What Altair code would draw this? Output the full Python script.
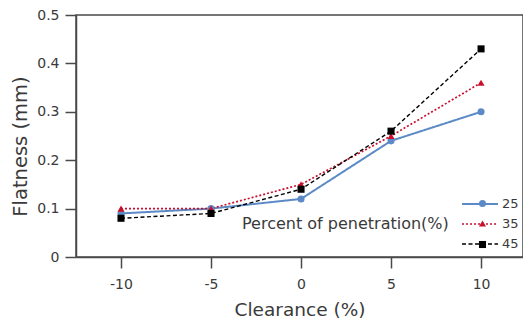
import altair as alt
import pandas as pd

clearance = [-10, -5, 0, 5, 10]
series_names = ["25", "35", "45"]
flat_25 = [0.09, 0.10, 0.12, 0.24, 0.30]
flat_35 = [0.10, 0.10, 0.15, 0.25, 0.36]
flat_45 = [0.08, 0.09, 0.14, 0.26, 0.43]
x_ticks = [-10, -5, 0, 5, 10]
y_ticks = [0, 0.1, 0.2, 0.3, 0.4, 0.5]

rows = []
for name, vals in zip(series_names, [flat_25, flat_35, flat_45]):
    for c, v in zip(clearance, vals):
        rows.append({"clearance": c, "flatness": v, "series": name, "series_p": name})
df = pd.DataFrame(rows)

colors = ["#5b8ac6", "#c8102e", "#000000"]
dashes = [[1, 0], [2, 2], [4, 2.5]]
widths = [2, 1.4, 2]
shapes = ["circle", "triangle-up", "square"]
FONT = "DejaVu Sans"
TXT = "#3a3a3a"
LEG_TITLE = "Percent of penetration(%)"
LX, LY = 166, 182

x_enc = alt.X(
    "clearance:Q",
    scale=alt.Scale(domain=[-12.5, 12.33], nice=False, zero=False),
    axis=alt.Axis(values=x_ticks, title="Clearance (%)", labelExpr="'' + datum.value",
                  grid=False, tickSize=11, labelPadding=9, titlePadding=9, titleFontSize=18.5),
)
y_enc = alt.Y(
    "flatness:Q",
    scale=alt.Scale(domain=[0, 0.5], nice=False),
    axis=alt.Axis(values=y_ticks, title="Flatness (mm)", format="~g",
                  grid=False, tickSize=11, labelPadding=6, titlePadding=6,
                  titleFontSize=19.5, titleY=131),
)

lines = alt.Chart(df).mark_line().encode(
    x=x_enc,
    y=y_enc,
    color=alt.Color("series:N", scale=alt.Scale(domain=series_names, range=colors),
                    legend=alt.Legend(orient="none", legendX=LX, legendY=LY, title=LEG_TITLE,
                                      titleOrient="left", titleAnchor="middle", titleBaseline="middle",
                                      titleLimit=400,
                                      symbolType="M-3,0L3,0", symbolSize=144, symbolStrokeWidth=2,
                                      titlePadding=24, labelOffset=15, rowPadding=6)),
    strokeDash=alt.StrokeDash("series:N", scale=alt.Scale(domain=series_names, range=dashes)),
    strokeWidth=alt.StrokeWidth("series:N", scale=alt.Scale(domain=series_names, range=widths), legend=None),
)

points = alt.Chart(df).mark_point(filled=True, opacity=1, size=50).encode(
    x="clearance:Q",
    y="flatness:Q",
    fill=alt.Fill("series_p:N", scale=alt.Scale(range=colors),
                  legend=alt.Legend(orient="none", legendX=LX, legendY=LY, title=LEG_TITLE,
                                    titleOrient="left", titleAnchor="middle", titleBaseline="middle",
                                    titleLimit=400, symbolSize=50,
                                    titlePadding=27, labelOffset=15, rowPadding=6,
                                    titleOpacity=0, labelExpr="''")),
    shape=alt.Shape("series_p:N", scale=alt.Scale(range=shapes)),
)

chart = alt.layer(lines, points).properties(
    width=447, height=242,
    padding={"left": 2, "top": 0, "right": 0, "bottom": 0},
).configure_view(
    stroke="#4a4a4a", strokeWidth=1.5
).configure_axis(
    labelFont=FONT, titleFont=FONT, labelFontSize=14,
    labelColor=TXT, titleColor=TXT, titleFontWeight="normal",
    domainColor="#4a4a4a", tickColor="#4a4a4a", domainWidth=1.5, tickWidth=1.5,
).configure_legend(
    labelFont=FONT, titleFont=FONT, labelFontSize=13, titleFontSize=16,
    labelColor=TXT, titleColor=TXT, titleFontWeight="normal",
)

chart.save("out.html", embed_options={"renderer": "svg", "actions": False})
